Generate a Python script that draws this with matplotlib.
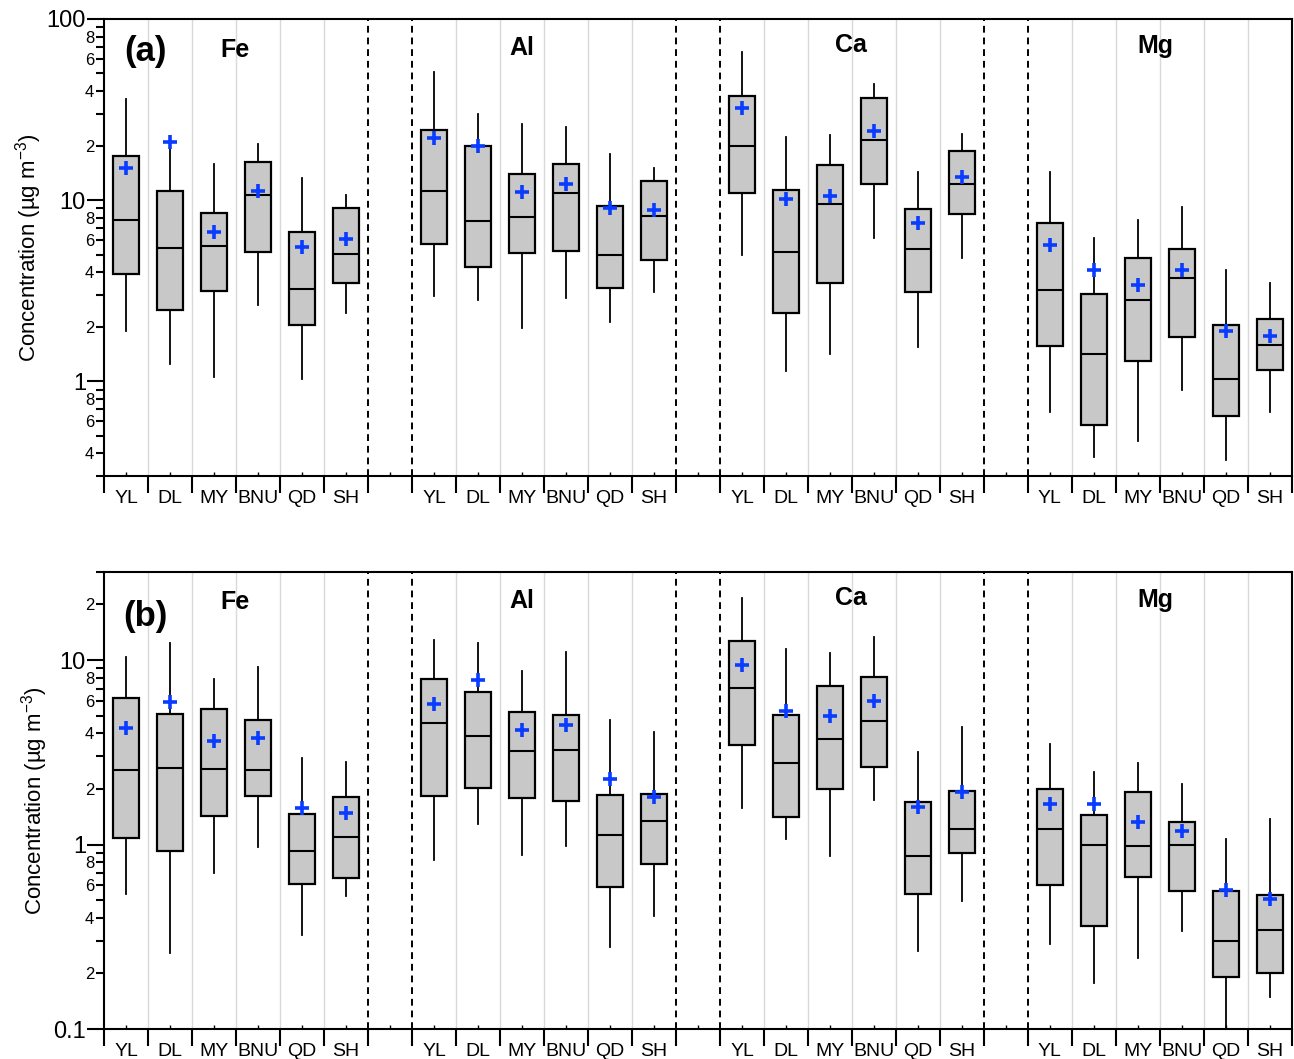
import numpy as np
import matplotlib.pyplot as plt
from matplotlib.ticker import LogLocator, FuncFormatter, FixedLocator, NullFormatter

plt.rcParams['font.family'] = ['Liberation Sans', 'DejaVu Sans']
plt.rcParams['mathtext.fontset'] = 'custom'
plt.rcParams['mathtext.rm'] = 'Liberation Sans'
plt.rcParams['mathtext.default'] = 'regular'

sites = ['YL', 'DL', 'MY', 'BNU', 'QD', 'SH']
elements = ['Fe', 'Al', 'Ca', 'Mg']

# ---- panel (a): rows = Fe, Al, Ca, Mg ; columns follow `sites`
a_whislo = [[1.89, 1.25, 1.05, 2.65, 1.03, 2.38],
            [2.97, 2.82, 1.97, 2.90, 2.12, 3.11],
            [4.99, 1.14, 1.41, 6.16, 1.54, 4.79],
            [0.673, 0.381, 0.470, 0.896, 0.368, 0.678]]
a_q1 = [[3.91, 2.47, 3.16, 5.16, 2.05, 3.49],
        [5.71, 4.27, 5.09, 5.27, 3.27, 4.68],
        [11.0, 2.37, 3.49, 12.3, 3.10, 8.41],
        [1.56, 0.573, 1.29, 1.75, 0.640, 1.15]]
a_med = [[7.77, 5.45, 5.61, 10.7, 3.24, 5.05],
         [11.2, 7.69, 8.09, 11.0, 4.99, 8.17],
         [19.8, 5.16, 9.57, 21.4, 5.40, 12.3],
         [3.19, 1.42, 2.81, 3.73, 1.03, 1.58]]
a_q3 = [[17.5, 11.3, 8.45, 16.2, 6.64, 9.0],
        [24.5, 19.9, 14.0, 15.8, 9.23, 12.7],
        [37.6, 11.4, 15.6, 36.5, 8.89, 18.6],
        [7.50, 3.03, 4.82, 5.38, 2.04, 2.21]]
a_whishi = [[36.2, 20.0, 15.9, 20.3, 13.3, 10.7],
            [50.7, 29.9, 26.3, 25.3, 17.9, 15.1],
            [65.3, 22.3, 23.0, 43.8, 14.3, 23.2],
            [14.3, 6.21, 7.77, 9.15, 4.09, 3.49]]
a_mean = [[15.1, 21.0, 6.64, 11.3, 5.54, 6.13],
          [22.0, 19.9, 11.1, 12.3, 9.0, 8.81],
          [32.3, 10.2, 10.5, 24.0, 7.44, 13.5],
          [5.68, 4.12, 3.41, 4.09, 1.89, 1.77]]

# ---- panel (b)
b_whislo = [[0.539, 0.257, 0.700, 0.97, 0.322, 0.523],
            [0.826, 1.29, 0.88, 0.976, 0.279, 0.408],
            [1.58, 1.07, 0.869, 1.74, 0.266, 0.496],
            [0.290, 0.178, 0.243, 0.339, 0.1, 0.150]]
b_q1 = [[1.09, 0.917, 1.42, 1.83, 0.613, 0.655],
        [1.84, 2.03, 1.78, 1.73, 0.586, 0.783],
        [3.46, 1.41, 2.00, 2.63, 0.541, 0.898],
        [0.605, 0.363, 0.663, 0.557, 0.191, 0.200]]
b_med = [[2.54, 2.59, 2.56, 2.52, 0.924, 1.10],
         [4.53, 3.85, 3.23, 3.27, 1.13, 1.34],
         [7.03, 2.75, 3.71, 4.70, 0.869, 1.22],
         [1.21, 0.99, 0.98, 0.99, 0.299, 0.346]]
b_q3 = [[6.23, 5.07, 5.43, 4.72, 1.47, 1.82],
        [7.93, 6.71, 5.24, 5.02, 1.86, 1.89],
        [12.6, 5.02, 7.24, 8.09, 1.69, 1.96],
        [2.00, 1.45, 1.92, 1.33, 0.557, 0.532]]
b_whishi = [[10.4, 12.4, 7.93, 9.13, 2.93, 2.80],
            [12.8, 12.4, 8.68, 11.1, 4.72, 4.05],
            [21.6, 11.5, 10.9, 13.4, 3.17, 4.31],
            [3.49, 2.46, 2.75, 2.12, 1.07, 1.38]]
b_mean = [[4.29, 5.95, 3.63, 3.79, 1.58, 1.48],
          [5.78, 7.83, 4.20, 4.47, 2.26, 1.82],
          [9.43, 5.30, 4.96, 5.98, 1.60, 1.92],
          [1.66, 1.65, 1.32, 1.18, 0.569, 0.508]]


def major_fmt(v, pos):
    return '%g' % v


def minor_fmt(v, pos):
    lead = int(round(v / 10 ** np.floor(np.log10(v) + 1e-9)))
    return str(lead) if lead in (2, 4, 6, 8) else ''


def draw_panel(ax, whislo, q1, med, q3, whishi, mean, ylim, tag, tag_y, el_y):
    stats, pos = [], []
    for g in range(len(elements)):
        for i in range(len(sites)):
            stats.append(dict(whislo=whislo[g][i], q1=q1[g][i], med=med[g][i],
                              q3=q3[g][i], whishi=whishi[g][i], mean=mean[g][i],
                              fliers=[]))
            pos.append(g * 7 + i)

    ax.bxp(stats, positions=pos, widths=0.6, patch_artist=True,
           showmeans=True, showcaps=False, showfliers=False,
           boxprops=dict(facecolor='#c8c8c8', edgecolor='black', linewidth=1.6),
           whiskerprops=dict(color='black', linewidth=1.3),
           medianprops=dict(color='black', linewidth=1.5),
           meanprops=dict(marker='+', markeredgecolor='#0a3cff',
                          markersize=10, markeredgewidth=2.6, zorder=5))

    # separators: light grey inside groups, dashed around the gaps
    for g in range(4):
        for i in range(1, 6):
            ax.axvline(g * 7 + i - 0.5, color='#d9d9d9', lw=1.0, zorder=0)
    for g in range(3):
        for xx in (g * 7 + 5.5, g * 7 + 6.5):
            ax.axvline(xx, color='black', lw=1.4, ls=(0, (3.5, 2.5)), zorder=1)

    ax.set_yscale('log')
    ax.set_ylim(*ylim)
    ax.set_xlim(-0.5, 26.5)

    ax.yaxis.set_major_locator(LogLocator(base=10, numticks=10))
    ax.yaxis.set_minor_locator(LogLocator(base=10, subs=np.arange(2, 10), numticks=10))
    ax.yaxis.set_major_formatter(FuncFormatter(major_fmt))
    ax.yaxis.set_minor_formatter(FuncFormatter(minor_fmt))
    ax.tick_params(axis='y', which='major', direction='out', length=12, width=1.5,
                   labelsize=17, pad=1)
    ax.tick_params(axis='y', which='minor', direction='out', length=6, width=1.5,
                   labelsize=12, pad=1)

    centers = np.arange(27)
    labels = [sites[k % 7] if k % 7 < 6 else '' for k in centers]
    ax.xaxis.set_major_locator(FixedLocator(np.arange(28) - 0.5))
    ax.xaxis.set_major_formatter(NullFormatter())
    ax.xaxis.set_minor_locator(FixedLocator(centers))
    ax.set_xticklabels(labels, minor=True)
    ax.tick_params(axis='x', which='major', direction='out', length=12, width=1.5)
    ax.tick_params(axis='x', which='minor', direction='in', length=3, width=1.0,
                   labelsize=14, pad=10)

    for sp in ax.spines.values():
        sp.set_linewidth(1.5)

    ax.set_ylabel('Concentration (µg m$^{-3}$)', fontsize=16, labelpad=2)

    ax.text(0.45, tag_y, tag, transform=ax.get_xaxis_transform(), fontsize=25,
            fontweight='bold', ha='center', va='center')
    el_x = [2.48, 9.0, 16.48, 23.4]
    for k, el in enumerate(elements):
        ax.text(el_x[k], el_y[k], el, transform=ax.get_xaxis_transform(),
                fontsize=18, fontweight='bold', ha='center', va='baseline')


fig = plt.figure(figsize=(12.94, 10.59), dpi=100)
ax_a = fig.add_axes([0.0804, 0.5505, 0.918, 0.4316])
ax_b = fig.add_axes([0.0804, 0.0283, 0.918, 0.4316])

draw_panel(ax_a, a_whislo, a_q1, a_med, a_q3, a_whishi, a_mean, (0.3, 100),
           '(a)', 0.928, [0.917, 0.921, 0.928, 0.926])
draw_panel(ax_b, b_whislo, b_q1, b_med, b_q3, b_whishi, b_mean, (0.1, 30),
           '(b)', 0.902, [0.919, 0.921, 0.928, 0.923])

fig.savefig('out.png', dpi=100)
